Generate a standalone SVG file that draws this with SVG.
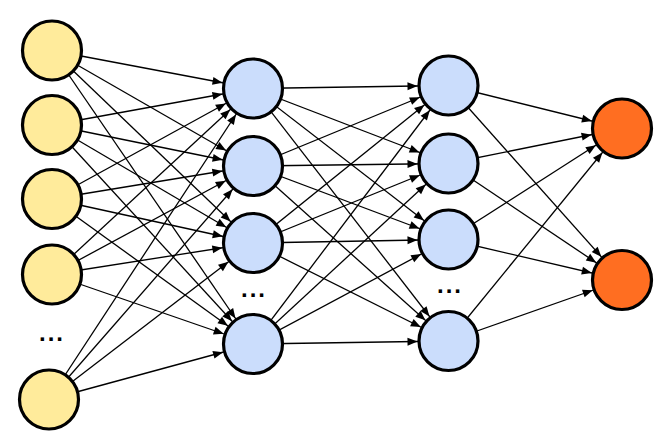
<svg xmlns="http://www.w3.org/2000/svg" width="669" height="445" viewBox="0 0 669 445">
<style>
.c{stroke:#000;stroke-width:3.2}
.in{fill:#FFEB9B}
.hd{fill:#CBDDFC}
.out{fill:#FF6E21}
#connectors line{stroke:#000;stroke-width:1.3;marker-end:url(#arr)}
.dots{font-family:"Liberation Sans",Arial,sans-serif;font-size:24px;font-weight:bold;fill:#000;letter-spacing:2px}
</style>
<defs>
<marker id="arr" markerUnits="userSpaceOnUse" overflow="visible" markerWidth="10" markerHeight="10" refX="0" refY="0" orient="auto">
<path d="M -41 -4 L -31 0 L -41 4 z" fill="#000"/>
</marker>
</defs>
<rect width="669" height="445" fill="#fff"/>
<g id="connectors">
<line x1="52" y1="50.5" x2="253" y2="88.5"/>
<line x1="52" y1="50.5" x2="253" y2="166"/>
<line x1="52" y1="50.5" x2="253" y2="243"/>
<line x1="52" y1="50.5" x2="253" y2="344"/>
<line x1="52" y1="125" x2="253" y2="88.5"/>
<line x1="52" y1="125" x2="253" y2="166"/>
<line x1="52" y1="125" x2="253" y2="243"/>
<line x1="52" y1="125" x2="253" y2="344"/>
<line x1="52" y1="199" x2="253" y2="88.5"/>
<line x1="52" y1="199" x2="253" y2="166"/>
<line x1="52" y1="199" x2="253" y2="243"/>
<line x1="52" y1="199" x2="253" y2="344"/>
<line x1="52" y1="274.5" x2="253" y2="88.5"/>
<line x1="52" y1="274.5" x2="253" y2="166"/>
<line x1="52" y1="274.5" x2="253" y2="243"/>
<line x1="52" y1="274.5" x2="253" y2="344"/>
<line x1="49" y1="399.5" x2="253" y2="88.5"/>
<line x1="49" y1="399.5" x2="253" y2="166"/>
<line x1="49" y1="399.5" x2="253" y2="243"/>
<line x1="49" y1="399.5" x2="253" y2="344"/>
<line x1="253" y1="88.5" x2="448.5" y2="85.5"/>
<line x1="253" y1="88.5" x2="448.5" y2="163.5"/>
<line x1="253" y1="88.5" x2="448.5" y2="239.5"/>
<line x1="253" y1="88.5" x2="448.5" y2="341"/>
<line x1="253" y1="166" x2="448.5" y2="85.5"/>
<line x1="253" y1="166" x2="448.5" y2="163.5"/>
<line x1="253" y1="166" x2="448.5" y2="239.5"/>
<line x1="253" y1="166" x2="448.5" y2="341"/>
<line x1="253" y1="243" x2="448.5" y2="85.5"/>
<line x1="253" y1="243" x2="448.5" y2="163.5"/>
<line x1="253" y1="243" x2="448.5" y2="239.5"/>
<line x1="253" y1="243" x2="448.5" y2="341"/>
<line x1="253" y1="344" x2="448.5" y2="85.5"/>
<line x1="253" y1="344" x2="448.5" y2="163.5"/>
<line x1="253" y1="344" x2="448.5" y2="239.5"/>
<line x1="253" y1="344" x2="448.5" y2="341"/>
<line x1="448.5" y1="85.5" x2="622" y2="128.5"/>
<line x1="448.5" y1="85.5" x2="622" y2="280"/>
<line x1="448.5" y1="163.5" x2="622" y2="128.5"/>
<line x1="448.5" y1="163.5" x2="622" y2="280"/>
<line x1="448.5" y1="239.5" x2="622" y2="128.5"/>
<line x1="448.5" y1="239.5" x2="622" y2="280"/>
<line x1="448.5" y1="341" x2="622" y2="128.5"/>
<line x1="448.5" y1="341" x2="622" y2="280"/>
</g>
<g id="in1"><circle class="c in" cx="52" cy="50.5" r="29.5"/></g>
<g id="in2"><circle class="c in" cx="52" cy="125" r="29.5"/></g>
<g id="in3"><circle class="c in" cx="52" cy="199" r="29.5"/></g>
<g id="in4"><circle class="c in" cx="52" cy="274.5" r="29.5"/></g>
<g id="in-dots"><text class="dots" x="52" y="341" text-anchor="middle">...</text></g>
<g id="in5"><circle class="c in" cx="49" cy="399.5" r="29.5"/></g>
<g id="h1a"><circle class="c hd" cx="253" cy="88.5" r="29.5"/></g>
<g id="h1b"><circle class="c hd" cx="253" cy="166" r="29.5"/></g>
<g id="h1c"><circle class="c hd" cx="253" cy="243" r="29.5"/></g>
<g id="h1-dots"><text class="dots" x="254" y="297" text-anchor="middle">...</text></g>
<g id="h1d"><circle class="c hd" cx="253" cy="344" r="29.5"/></g>
<g id="h2a"><circle class="c hd" cx="448.5" cy="85.5" r="29.5"/></g>
<g id="h2b"><circle class="c hd" cx="448.5" cy="163.5" r="29.5"/></g>
<g id="h2c"><circle class="c hd" cx="448.5" cy="239.5" r="29.5"/></g>
<g id="h2-dots"><text class="dots" x="450" y="293" text-anchor="middle">...</text></g>
<g id="h2d"><circle class="c hd" cx="448.5" cy="341" r="29.5"/></g>
<g id="o1"><circle class="c out" cx="622" cy="128.5" r="29.5"/></g>
<g id="o2"><circle class="c out" cx="622" cy="280" r="29.5"/></g>
</svg>
